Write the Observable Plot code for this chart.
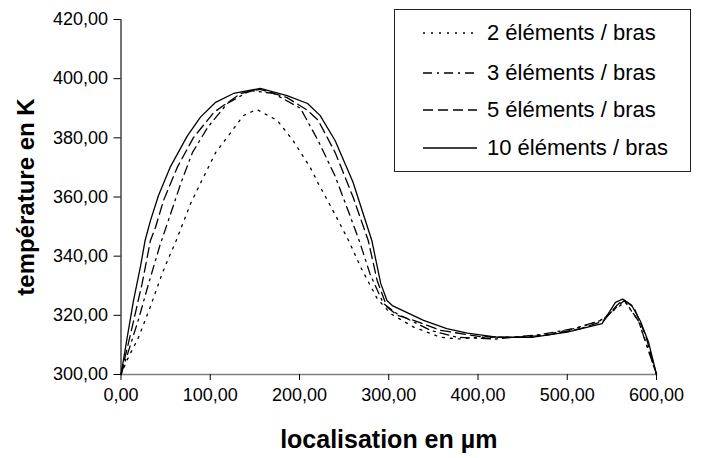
<!DOCTYPE html>
<html>
<head>
<meta charset="utf-8">
<script src="https://cdn.jsdelivr.net/npm/d3@7"></script>
<script src="https://cdn.jsdelivr.net/npm/@observablehq/plot@0.6"></script>
<style>
  body { margin: 0; background: #fff; font-family: "Liberation Sans", Arial, sans-serif; }
  #wrap { position: relative; width: 701px; height: 458px; }
  #legend { position: absolute; left: 394px; top: 9px; width: 297px; height: 163px; border: 1px solid #222; background: #fff; box-sizing: border-box; }
  .row { position: absolute; left: 0; height: 26px; display: flex; align-items: center; }
  .row svg { margin-left: 28px; }
  .row span { margin-left: 10px; font-size: 22px; color: #000; white-space: nowrap; }
</style>
</head>
<body>
<div id="wrap"><div id="legend"></div></div>
<script>
// ---- data (localisation en µm, température en K) ----
const seriesNames = ["2 éléments / bras", "3 éléments / bras", "5 éléments / bras", "10 éléments / bras"];
const seriesDash = ["2,6", "9,5,2,5", "10,5", null];

const x2 = [0, 7, 19.6, 33, 46, 52, 61, 78, 89, 106, 123, 137, 152, 175, 193, 212, 221, 240, 255, 269, 287, 302, 328, 358, 377, 403, 440, 477, 515, 537, 557, 565, 580, 600];
const t2 = [300, 305, 312.5, 323, 334, 338.5, 344.6, 357.8, 364.6, 375, 381.8, 387.5, 389.6, 385.9, 379, 370, 364.6, 354, 345.3, 336, 325.7, 320.6, 316, 312.6, 312, 312.6, 312.6, 313.5, 316, 318.3, 322.8, 324.5, 318, 300];

const x3 = [0, 8.5, 20, 31, 44, 53, 67, 80, 97, 119, 145, 171, 201, 221, 240, 255, 268, 279, 294, 309, 347, 376, 420, 470, 507, 540, 556, 564, 580, 600];
const t3 = [300, 308, 319, 330.8, 344, 352, 364.6, 375, 383.5, 391.6, 396, 395, 390, 379, 367, 355, 344.3, 334, 324, 320.6, 314.9, 312.6, 312, 313.5, 315.5, 318.5, 323, 325, 318, 300];

const x5 = [0, 12.5, 23.7, 33, 38.6, 47.6, 63, 81, 104, 134, 156, 186, 209, 221, 240, 260, 277, 287, 298, 310, 328, 358, 403, 440, 477, 515, 540, 556, 563, 575, 588, 600];
const t5 = [300, 316, 330.8, 345.3, 349.7, 358.8, 370, 380, 388.6, 395, 396.4, 393.6, 389.3, 385.9, 375, 360, 345.3, 331.8, 322.8, 320, 318.3, 314.9, 312.8, 312.5, 313.3, 315.5, 318, 323.5, 325.3, 322.5, 313, 300];

const x10 = [0, 7, 14, 22, 27, 33, 42, 55, 74, 89, 106, 126, 156, 186, 209, 223, 240, 260, 281, 291, 298, 304, 320, 339, 365, 388, 421, 462, 500, 539, 554, 562, 572, 582, 591, 600];
const t10 = [300, 312.6, 325, 336.8, 345.3, 352, 360.5, 370, 380.5, 387, 392, 395, 396.7, 394.3, 391.6, 387.6, 379, 365, 345.3, 330.8, 325, 323.3, 321, 318.3, 315.5, 314, 312.6, 312.6, 314.3, 317.2, 324.4, 325.5, 323.5, 318, 311, 300];

const xTicks = [0, 100, 200, 300, 400, 500, 600];
const yTicks = [300, 320, 340, 360, 380, 400, 420];
const xTitle = "localisation en µm";
const yTitle = "température en K";

// ---- build tables ----
const allX = [x2, x3, x5, x10];
const allT = [t2, t3, t5, t10];
const tables = allX.map((xs, i) => xs.map((x, j) => ({x, t: allT[i][j], s: seriesNames[i]})));

const fmt = d => d.toFixed(2).replace(".", ",");

const chart = Plot.plot({
  width: 701,
  height: 458,
  marginLeft: 120.5,
  marginRight: 45,
  marginTop: 19,
  marginBottom: 84,
  style: {fontFamily: "'Liberation Sans', Arial, sans-serif", fontSize: "18px", color: "#000", background: "transparent"},
  x: {domain: [0, 600]},
  y: {domain: [300, 420]},
  marks: [
    Plot.ruleY([300], {stroke: "#808080", strokeWidth: 1.3}),
    Plot.ruleX([0], {stroke: "#000", strokeWidth: 1.1}),
    Plot.axisX({ticks: xTicks, tickFormat: fmt, tickSize: 6, tickPadding: 8, label: null, fontSize: 18, stroke: "#000"}),
    Plot.axisY({ticks: yTicks, tickFormat: fmt, tickSize: 7, tickPadding: 6, label: null, fontSize: 18, stroke: "#000"}),
    ...tables.map((tb, i) => Plot.line(tb, {x: "x", y: "t", stroke: "#000", strokeWidth: 1.3, strokeDasharray: seriesDash[i], strokeLinejoin: "round"})),
    Plot.text([xTitle], {frameAnchor: "bottom", lineAnchor: "middle", dy: 65, fontWeight: "bold", fontSize: 25, text: d => d, fill: "#000"}),
    Plot.text([yTitle], {frameAnchor: "left", textAnchor: "middle", lineAnchor: "middle", dx: -94.5, rotate: -90, fontWeight: "bold", fontSize: 24, text: d => d, fill: "#000"})
  ]
});
const wrap = document.getElementById("wrap");
chart.style.position = "absolute";
chart.style.left = "0";
chart.style.top = "0";
wrap.insertBefore(chart, wrap.firstChild);

// ---- legend ----
const legend = document.getElementById("legend");
const rowCenters = [23, 63, 100, 138];
seriesNames.forEach((name, i) => {
  const row = document.createElement("div");
  row.className = "row";
  row.style.top = (rowCenters[i] - 13) + "px";
  const ns = "http://www.w3.org/2000/svg";
  const s = document.createElementNS(ns, "svg");
  s.setAttribute("width", 54); s.setAttribute("height", 10);
  const l = document.createElementNS(ns, "line");
  l.setAttribute("x1", 0); l.setAttribute("x2", 54); l.setAttribute("y1", 5); l.setAttribute("y2", 5);
  l.setAttribute("stroke", "#000"); l.setAttribute("stroke-width", 1.3);
  if (seriesDash[i]) l.setAttribute("stroke-dasharray", seriesDash[i]);
  s.appendChild(l);
  const sp = document.createElement("span");
  sp.textContent = name;
  row.appendChild(s); row.appendChild(sp);
  legend.appendChild(row);
});
</script>
</body>
</html>
